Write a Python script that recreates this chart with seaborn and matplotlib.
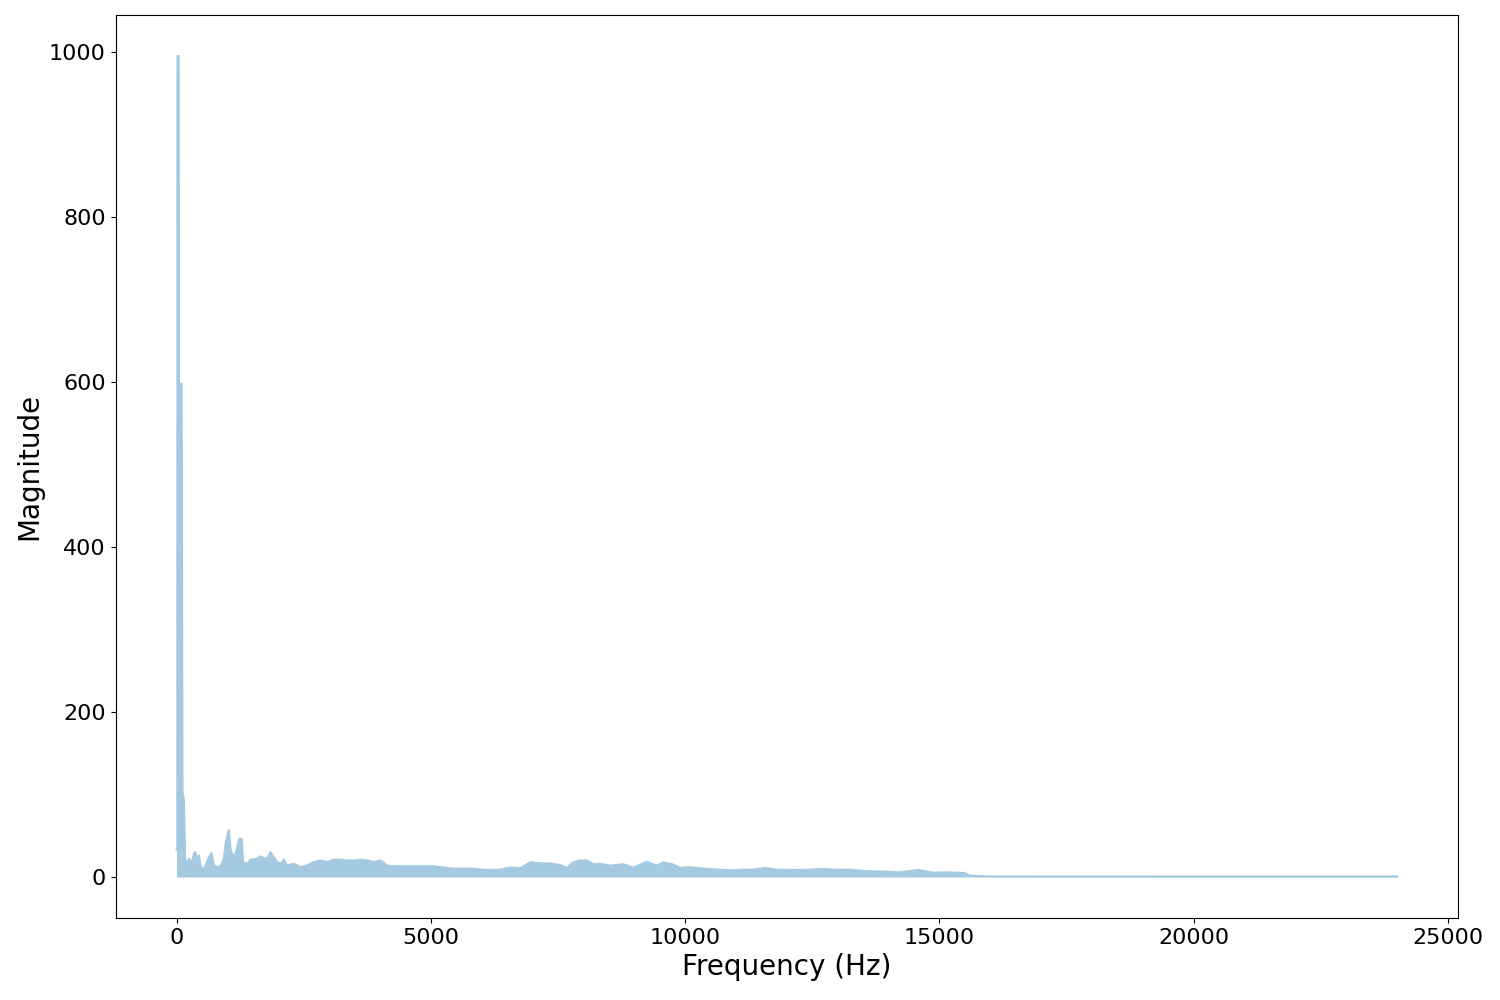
import numpy as np
import matplotlib
matplotlib.use('Agg')
import matplotlib.pyplot as plt
import pandas as pd
import seaborn as sns

# envelope of the FFT magnitude, as (Hz, magnitude)
low_band = [(0, 33), (15, 33), (18, 995), (42, 995), (46, 598), (100, 598),
            (118, 102), (144, 94), (170, 22), (210, 14), (242, 22), (308, 18),
            (340, 28), (373, 30), (406, 20), (439, 26), (472, 14), (517, 8),
            (570, 14), (635, 24), (688, 29), (733, 14), (799, 12), (864, 13),
            (930, 22), (963, 40), (1028, 57), (1061, 34), (1094, 28), (1139, 25),
            (1179, 32), (1231, 46), (1284, 46), (1310, 17), (1388, 16), (1454, 21),
            (1585, 22), (1650, 25), (1716, 23), (1781, 22), (1847, 30), (1912, 24),
            (1978, 18), (2043, 16), (2109, 21), (2174, 14), (2305, 16), (2436, 12),
            (2567, 14), (2698, 18), (2829, 20), (2960, 18), (3091, 21), (3222, 21),
            (3353, 20), (3484, 20), (3615, 21), (3746, 20), (3877, 18), (4008, 20),
            (4139, 14), (4270, 13), (4663, 13), (5056, 13), (5187, 12), (5318, 11),
            (5449, 10), (5842, 10), (5972, 9), (6103, 8.5), (6234, 8.5)]
mid_band = [(6365, 9), (6562, 11.3), (6758, 10.5), (6955, 17.7), (7151, 16.5),
            (7348, 16.5), (7544, 14.5), (7675, 11), (7806, 18), (7937, 20),
            (8068, 20), (8199, 15.4), (8330, 16), (8527, 13.7), (8789, 15.4),
            (8985, 11.3), (9247, 18.5), (9444, 13.7), (9575, 17.7), (9771, 15),
            (9902, 11), (10098, 12), (10295, 10.5), (10622, 8.9), (10950, 8),
            (11146, 8.9), (11343, 8.9), (11572, 11), (11801, 8.9), (12063, 8.5),
            (12325, 8.5), (12685, 9.7), (12914, 8.9), (13209, 8.9), (13503, 7.3),
            (13896, 6.5), (14224, 5.6), (14584, 8.5), (14879, 5.2), (15141, 5.6),
            (15501, 4.8), (15599, 1.6)]
high_band = [(16000, 0.6), (20000, 0.5), (24000, 0.5)]

line_color = '#a5c9e1'  # tab:blue at alpha 0.4 on white

spectrum = pd.DataFrame(low_band + mid_band + high_band,
                        columns=['Frequency (Hz)', 'Magnitude'])

fig, ax = plt.subplots(figsize=(15, 10), dpi=100)
ax.fill_between(spectrum['Frequency (Hz)'], 0, spectrum['Magnitude'],
                color=line_color, linewidth=0)
sns.lineplot(x='Frequency (Hz)', y='Magnitude', data=spectrum, ax=ax,
             color=line_color, linewidth=1.5, sort=False)

ax.set_xlabel('Frequency (Hz)', fontsize=20)
ax.set_ylabel('Magnitude', fontsize=20)
ax.tick_params(axis='both', labelsize=16)

fig.subplots_adjust(left=0.077, right=0.972, top=0.985, bottom=0.082)
fig.savefig('out.png', dpi=100)
